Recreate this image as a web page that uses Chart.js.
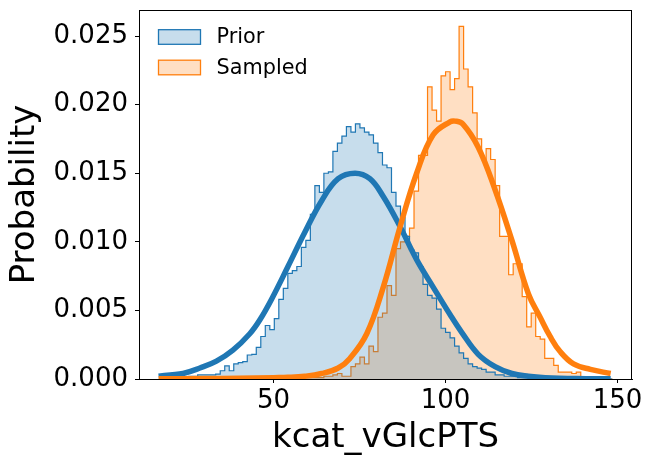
<!DOCTYPE html>
<html lang="en">
<head>
<meta charset="UTF-8">
<title>kcat_vGlcPTS</title>
<style>
    body { margin: 0; background: #fff; }
    #wrap { width: 657px; height: 467px; }
</style>
<script src="https://cdn.jsdelivr.net/npm/chart.js"></script>
</head>
<body>
<div id="wrap"><canvas id="histChart" width="657" height="467"></canvas></div>
<script>
    // histogram bins (shared by both series)
    const binStart = 17.48;
    const binWidth = 1.31;

    const priorHeights = [
        0.0001, 0, 0.0001, 0.0001, 0.0001, 0.0001, 0.0002, 0.0002, 0.0003, 0.0003,
        0.0003, 0.0003, 0.00036, 0.0006, 0.00095, 0.0006, 0.0011, 0.0012, 0.00126, 0.00175,
        0.0018, 0.0023, 0.0031, 0.0039, 0.0036, 0.0044, 0.0058, 0.0066, 0.0077, 0.0079,
        0.0082, 0.0096, 0.0101, 0.0120, 0.0141, 0.0136, 0.0150, 0.0151, 0.0166, 0.0172,
        0.0177, 0.0184, 0.0180, 0.0186, 0.0183, 0.0180, 0.0178, 0.0172, 0.0165, 0.0156,
        0.0154, 0.0136, 0.0126, 0.0118, 0.0104, 0.0094, 0.0092, 0.0082, 0.0069, 0.0061,
        0.0059, 0.0051, 0.0037, 0.0034, 0.0030, 0.0024, 0.0019, 0.0015, 0.0011, 0.0009,
        0.0008, 0.0007, 0.0005, 0.0005, 0.0003, 0.0003, 0.0002, 0.0002, 0.0002, 0.0001,
        0.0001, 0.0001, 0.0001, 0.0001, 0.0001, 0.0001, 0.0001, 0.0001, 0.0001, 0.0001,
        0.00005, 0.00005, 0.00005, 0.00005, 0, 0, 0, 0, 0, 0
    ];

    const sampledHeights = [
        0, 0, 0, 0, 0, 0, 0, 0, 0, 0,
        0, 0, 0, 0, 0, 0, 0, 0, 0, 0,
        0.00005, 0.00005, 0.00005, 0.00005, 0.00005, 0.0001, 0.0001, 0.0001, 0.0001, 0.0001,
        0.0001, 0.0001, 0.0001, 0.0001, 0.0001, 0.0001, 0.0002, 0.0002, 0.0003, 0.0004,
        0.0002, 0.0002, 0.0009, 0.0011, 0.0016, 0.0011, 0.0024, 0.0020, 0.0045, 0.0048,
        0.0068, 0.0061, 0.0095, 0.0100, 0.0104, 0.0110, 0.0137, 0.0163, 0.0163, 0.0213,
        0.0196, 0.0188, 0.0221, 0.0224, 0.0211, 0.0219, 0.0257, 0.0226, 0.0213, 0.0194,
        0.0175, 0.0160, 0.0168, 0.0160, 0.0141, 0.0104, 0.0104, 0.0076, 0.0084, 0.0084,
        0.0060, 0.0038, 0.0048, 0.0031, 0.0029, 0.0015, 0.0015, 0.0010, 0.0005, 0.0005,
        0.0005, 0.0004, 0.0005, 0.0001, 0.0001, 0.0001, 0.00005, 0, 0, 0
    ];

    // fitted curves
    const priorCurveX = [16.6, 20, 23.7, 28.6, 33.4, 38.2, 43.1, 46, 49.4, 54.2, 59.1, 64, 68.8, 73.7,
                         78, 81.9, 86.8, 91.6, 96.4, 101.3, 104.7, 109.5, 114.4, 119.3, 124.1, 129, 138, 148];
    const priorCurveY = [0.0002, 0.0003, 0.0004, 0.0008, 0.0013, 0.0021, 0.0033, 0.0043, 0.0058, 0.0082, 0.0107, 0.0130, 0.0146, 0.0150,
                         0.0146, 0.0133, 0.0111, 0.0087, 0.0067, 0.0047, 0.0034, 0.0018, 0.0009, 0.0004, 0.0002, 0.0001, 0.00003, 0.00001];

    const sampledCurveX = [16.6, 30, 40, 50, 54.2, 59.1, 64, 68.8, 72.2, 77.1, 81.9, 86.8, 91.6, 96.4,
                           101.3, 102.8, 105, 109.5, 114.4, 119.3, 124.1, 127.5, 130.4, 133.3, 137.2, 142.1, 148];
    const sampledCurveY = [0.00002, 0.00003, 0.00005, 0.0001, 0.00012, 0.0002, 0.0004, 0.0008, 0.0015, 0.0033, 0.0067, 0.0111, 0.0150, 0.0178,
                           0.01875, 0.0188, 0.0186, 0.0169, 0.0138, 0.0101, 0.0062, 0.0045, 0.0031, 0.0020, 0.0011, 0.0007, 0.0004];

    const xTicks = [50, 100, 150];
    const yTicks = [0, 0.005, 0.010, 0.015, 0.020, 0.025];
    const seriesNames = ['Prior', 'Sampled'];

    const blue = '#1f77b4';
    const orange = '#ff7f0e';
    const blueFill = 'rgba(31, 119, 180, 0.25)';
    const orangeFill = 'rgba(255, 127, 14, 0.25)';
    const font = 'DejaVu Sans';

    function stepPoints(heights) {
        const pts = [{ x: binStart, y: 0 }];
        heights.forEach((h, i) => pts.push({ x: binStart + i * binWidth, y: h }));
        const end = binStart + heights.length * binWidth;
        pts.push({ x: end, y: heights[heights.length - 1] });
        pts.push({ x: end, y: 0 });
        return pts;
    }

    function curvePoints(xs, ys) {
        return xs.map((x, i) => ({ x: x, y: ys[i] }));
    }

    // box frame and legend drawn inside the axes
    const frameLegend = {
        id: 'frameLegend',
        afterDatasetsDraw(chart) {
            const ctx = chart.ctx;
            const a = chart.chartArea;
            ctx.save();
            ctx.strokeStyle = '#000';
            ctx.lineWidth = 1;
            ctx.strokeRect(a.left + 0.5, a.top + 0.5, a.right - a.left - 1, a.bottom - a.top);

            const entries = [
                { label: seriesNames[0], edge: blue, fill: blueFill, cy: 37 },
                { label: seriesNames[1], edge: orange, fill: orangeFill, cy: 67.5 }
            ];
            ctx.font = '20.8px "' + font + '"';
            ctx.textBaseline = 'middle';
            ctx.textAlign = 'left';
            entries.forEach(e => {
                ctx.fillStyle = e.fill;
                ctx.fillRect(158.5, e.cy - 7.3, 42, 14.6);
                ctx.strokeStyle = e.edge;
                ctx.lineWidth = 1.3;
                ctx.strokeRect(158.5, e.cy - 7.3, 42, 14.6);
                ctx.fillStyle = '#000';
                ctx.fillText(e.label, 216.5, e.cy + 1);
            });
            ctx.restore();
        }
    };

    new Chart(document.getElementById('histChart'), {
        type: 'line',
        data: {
            datasets: [
                {
                    label: seriesNames[1],
                    data: stepPoints(sampledHeights),
                    stepped: 'before',
                    borderColor: orange,
                    backgroundColor: orangeFill,
                    borderWidth: 1.2,
                    fill: 'origin',
                    pointRadius: 0,
                    order: 4
                },
                {
                    label: seriesNames[0],
                    data: stepPoints(priorHeights),
                    stepped: 'before',
                    borderColor: blue,
                    backgroundColor: blueFill,
                    borderWidth: 1.2,
                    fill: 'origin',
                    pointRadius: 0,
                    order: 3
                },
                {
                    label: 'Prior fit',
                    data: curvePoints(priorCurveX, priorCurveY),
                    borderColor: blue,
                    borderWidth: 5.5,
                    tension: 0.4,
                    fill: false,
                    pointRadius: 0,
                    order: 2
                },
                {
                    label: 'Sampled fit',
                    data: curvePoints(sampledCurveX, sampledCurveY),
                    borderColor: orange,
                    borderWidth: 5.5,
                    tension: 0.4,
                    fill: false,
                    pointRadius: 0,
                    order: 1
                }
            ]
        },
        options: {
            responsive: false,
            animation: false,
            devicePixelRatio: 1,
            layout: { padding: { top: 10, right: 25, bottom: 0, left: 0 } },
            plugins: {
                legend: { display: false },
                tooltip: { enabled: false }
            },
            scales: {
                x: {
                    type: 'linear',
                    min: 10.9,
                    max: 154.2,
                    afterBuildTicks: s => { s.ticks = xTicks.map(v => ({ value: v })); },
                    afterFit: s => { s.height = 88; s.paddingLeft = 0; s.paddingRight = 0; },
                    ticks: {
                        font: { family: font, size: 26 },
                        color: '#000',
                        padding: 3,
                        maxRotation: 0,
                        autoSkip: false,
                        callback: v => String(v)
                    },
                    grid: { drawOnChartArea: false, drawTicks: true, tickLength: 4, tickColor: '#000' },
                    border: { display: true, color: '#000', width: 1 },
                    title: {
                        display: true,
                        text: 'kcat_vGlcPTS',
                        color: '#000',
                        font: { family: font, size: 34 },
                        padding: { top: 0, bottom: 8 }
                    }
                },
                y: {
                    min: 0,
                    max: 0.0269,
                    afterBuildTicks: s => { s.ticks = yTicks.map(v => ({ value: v })); },
                    afterFit: s => { s.width = 139; s.paddingTop = 0; s.paddingBottom = 0; },
                    ticks: {
                        font: { family: font, size: 26 },
                        color: '#000',
                        padding: 7,
                        callback: v => v.toFixed(3)
                    },
                    grid: { drawOnChartArea: false, drawTicks: true, tickLength: 4, tickColor: '#000' },
                    border: { display: true, color: '#000', width: 1 },
                    title: {
                        display: true,
                        text: 'Probability',
                        color: '#000',
                        font: { family: font, size: 34 },
                        padding: { top: 5, bottom: 0 }
                    }
                }
            }
        },
        plugins: [frameLegend]
    });
</script>
</body>
</html>
